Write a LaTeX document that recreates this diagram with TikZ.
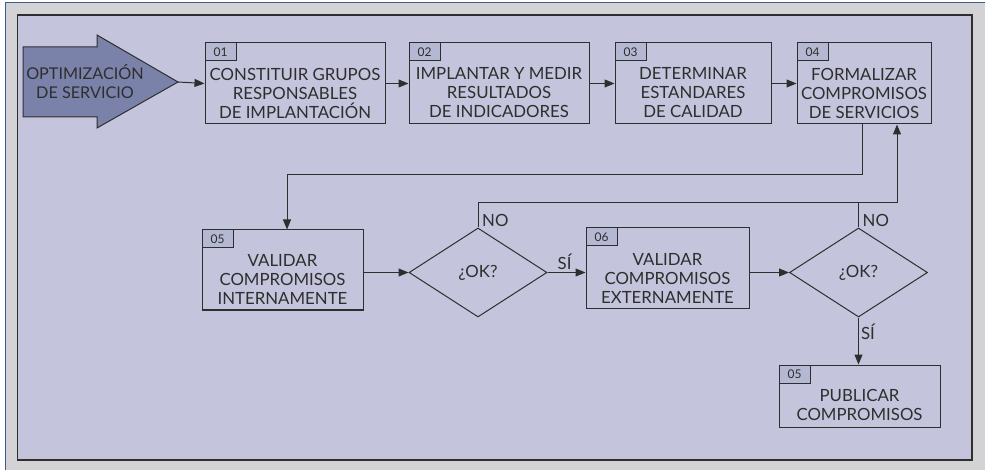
\documentclass[tikz,border=0pt]{standalone}
\usepackage{fontspec}
\setmainfont{Lato}
\usetikzlibrary{shapes.geometric,arrows.meta,calc}
\definecolor{pagegray}{HTML}{D3D3D5}
\definecolor{rimblue}{HTML}{3B5A92}
\definecolor{panelfill}{HTML}{C4C5DC}
\definecolor{arrowfill}{HTML}{7A82AA}
\definecolor{tabfill}{HTML}{B4B8D2}
\definecolor{ink}{HTML}{2E2E2E}
\tikzset{
  every node/.style={text=ink},
  stepbox/.style={draw=ink, line width=1pt, minimum height=81pt, inner sep=0pt},
  steptext/.style={align=center, font=\fontsize{16.8}{19}\selectfont, inner sep=0pt},
  tab/.style={draw=ink, line width=1pt, fill=tabfill, anchor=north west,
    minimum width=31pt, minimum height=18pt, inner sep=0pt,
    font=\fontsize{12}{12}\selectfont},
  decision/.style={draw=ink, line width=1pt, diamond, minimum width=138pt,
    minimum height=89pt, inner sep=0pt, font=\fontsize{16.8}{19}\selectfont},
  flow/.style={draw=ink, line width=1pt, -{Triangle[length=10pt,width=8pt]}},
  plain/.style={draw=ink, line width=1pt},
  edgelabel/.style={font=\fontsize{16.8}{19}\selectfont, inner sep=2pt}
}
\begin{document}
\begin{tikzpicture}[x=1pt,y=-1pt]
\useasboundingbox (0,0) rectangle (985,470);
% page frame
\fill[pagegray] (5,2) rectangle (985,470);
\draw[rimblue, line width=1.4pt] (5.7,470) -- (5.7,2.7) -- (985,2.7);
\draw[ink, line width=1.4pt, fill=panelfill] (17.5,15) rectangle (972,460);

% entry arrow
\draw[ink, line width=1pt, fill=arrowfill]
  (23,47) -- (97,47) -- (97,35) -- (178,82) -- (97,128) -- (97,117) -- (23,117) -- cycle;
\node[steptext, font=\fontsize{16.2}{19}\selectfont] (opt) at (85,82) {OPTIMIZACIÓN\\DE SERVICIO};
\coordinate (tip) at (178,82);

% first row of steps
\node[stepbox, minimum width=180pt] (b1) at (295,83.5) {};
\node[stepbox, minimum width=180pt] (b2) at (499,83.5) {};
\node[stepbox, minimum width=156pt] (b3) at (693,83.5) {};
\node[stepbox, minimum width=134pt] (b4) at (864,83.5) {};
\node[tab] (t1) at (b1.north west) {01};
\node[tab] (t2) at (b2.north west) {02};
\node[tab] (t3) at (b3.north west) {03};
\node[tab] (t4) at (b4.north west) {04};
\node[steptext] (x1) at ($(b1.center)+(0,9.5)$) {CONSTITUIR GRUPOS\\RESPONSABLES\\DE IMPLANTACIÓN};
\node[steptext] (x2) at ($(b2.center)+(0,9.5)$) {IMPLANTAR Y MEDIR\\RESULTADOS\\DE INDICADORES};
\node[steptext] (x3) at ($(b3.center)+(0,9.5)$) {DETERMINAR\\ESTANDARES\\DE CALIDAD};
\node[steptext] (x4) at ($(b4.center)+(0,9.5)$) {FORMALIZAR\\COMPROMISOS\\DE SERVICIOS};

% second row
\node[stepbox, minimum width=161pt, minimum height=80pt] (b5) at (282.5,270) {};
\node[decision] (d1) at (478,272.5) {¿OK?};
\node[stepbox, minimum width=163pt] (b6) at (667.5,268.5) {};
\node[decision] (d2) at (858.5,272.5) {¿OK?};
\node[tab] (t5) at (b5.north west) {05};
\node[tab] (t6) at (b6.north west) {06};
\node[steptext] (x5) at ($(b5.center)+(0,9.5)$) {VALIDAR\\COMPROMISOS\\INTERNAMENTE};
\node[steptext] (x6) at ($(b6.center)+(0,9.5)$) {VALIDAR\\COMPROMISOS\\EXTERNAMENTE};

% final step
\node[stepbox, minimum width=161pt, minimum height=62pt] (b7) at (859.5,396) {};
\node[tab] (t7) at (b7.north west) {05};
\node[steptext] (x7) at ($(b7.center)+(0,9)$) {PUBLICAR\\COMPROMISOS};

% connectors
\draw[flow] (tip) -- (b1.west);
\draw[flow] (b1.east) -- (b2.west);
\draw[flow] (b2.east) -- (b3.west);
\draw[flow] (b3.east) -- (b4.west);
\draw[flow] ([xshift=-2pt]b4.south) -- ++(0,50) -| ([xshift=4.5pt]b5.north);
\draw[flow] (b5.east |- d1.west) -- (d1.west);
\draw[flow] (d1.east) -- node[edgelabel, above, pos=0.45] (s1) {SÍ} (d1.east -| b6.west);
\draw[flow] (b6.east |- d2.west) -- (d2.west);
\coordinate (loop) at (897,203);
\draw[flow] (d1.north) |- (loop) -- (loop |- b4.south);
\draw[plain] (d2.north) -- (d2.north |- loop);
\draw[flow] (d2.south) -- node[edgelabel, right, pos=0.3] (s2) {SÍ} (b7.north -| d2.south);
\node[edgelabel, anchor=south west, xshift=2pt, yshift=-1pt] (n1) at (d1.north) {NO};
\node[edgelabel, anchor=south west, xshift=2pt, yshift=-1pt] (n2) at (d2.north) {NO};
\end{tikzpicture}
\end{document}
